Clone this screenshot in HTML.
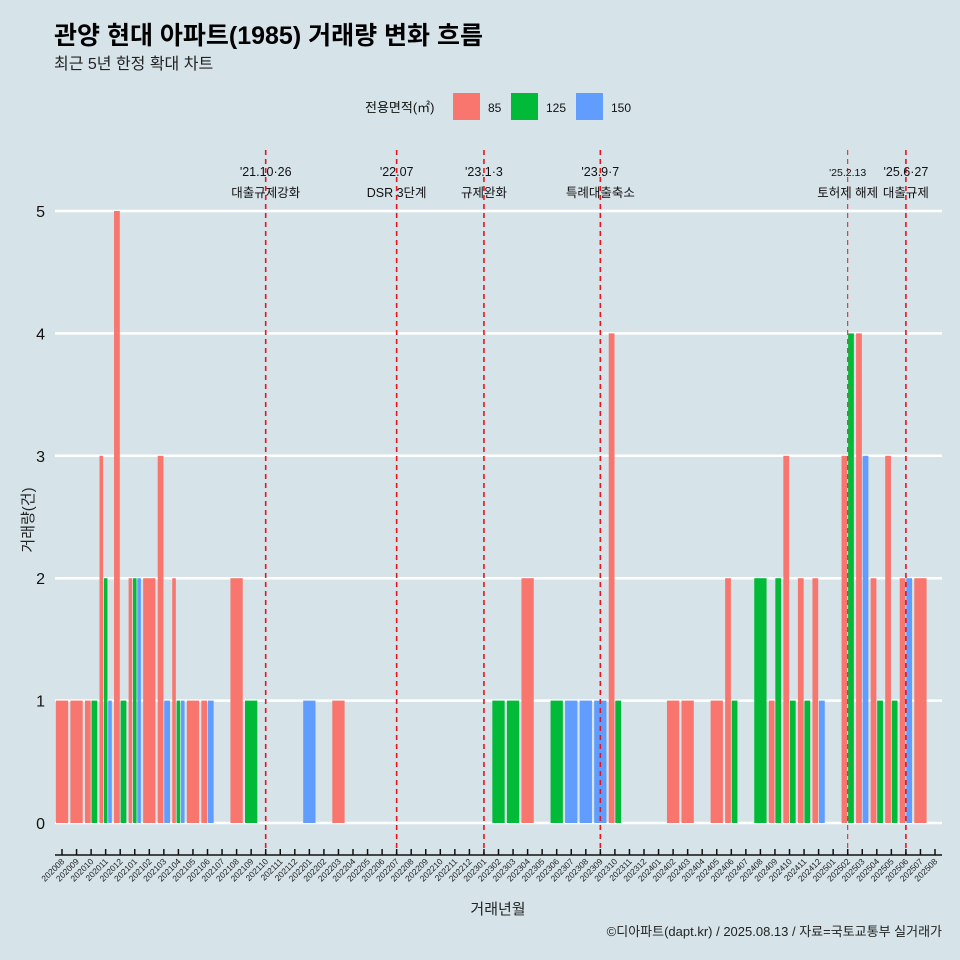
<!DOCTYPE html>
<html><head><meta charset="utf-8"><style>
body{margin:0;background:#d6e4ea;}
svg{display:block;font-family:"Liberation Sans","Noto Sans CJK KR",sans-serif;}
</style></head><body>
<svg id="c" width="960" height="960">
<rect width="960" height="960" fill="#d6e4ea"/>
<text x="54" y="44" font-size="25" font-weight="bold" fill="#000">관양 현대 아파트(1985) 거래량 변화 흐름</text>
<text x="54" y="69" font-size="16" fill="#222">최근 5년 한정 확대 차트</text>
<g>
<text x="365" y="112" font-size="13" fill="#111">전용면적(㎡)</text>
<rect x="453" y="93" width="27" height="27" fill="#f8766d"/>
<text x="488" y="112" font-size="12" fill="#111">85</text>
<rect x="511" y="93" width="27" height="27" fill="#00ba38"/>
<text x="546" y="112" font-size="12" fill="#111">125</text>
<rect x="576" y="93" width="27" height="27" fill="#619cff"/>
<text x="611" y="112" font-size="12" fill="#111">150</text>
</g>
<g id="grid"></g><g id="bars"></g><g id="events"></g><g id="axes"></g>
<text transform="translate(33,520) rotate(-90)" text-anchor="middle" font-size="15" fill="#222">거래량(건)</text>
<text x="498" y="914" text-anchor="middle" font-size="15" fill="#222">거래년월</text>
<text x="942" y="936" text-anchor="end" font-size="13" fill="#222">©디아파트(dapt.kr) / 2025.08.13 / 자료=국토교통부 실거래가</text>
</svg>
<script>
const months=[];for(let y=2020;y<=2025;y++)for(let m=1;m<=12;m++){const k=y*100+m;if(k>=202008&&k<=202508)months.push(String(k));}
const areas=["85","125","150"];
const colors={"85":"#f8766d","125":"#00ba38","150":"#619cff"};
const records=[
["202008","85",1],["202009","85",1],["202010","85",1],["202010","125",1],
["202011","85",3],["202011","125",2],["202011","150",1],["202012","85",5],["202012","125",1],
["202101","85",2],["202101","125",2],["202101","150",2],["202102","85",2],
["202103","85",3],["202103","150",1],["202104","85",2],["202104","125",1],["202104","150",1],
["202105","85",1],["202106","85",1],["202106","150",1],["202108","85",2],["202109","125",1],
["202201","150",1],["202203","85",1],
["202302","125",1],["202303","125",1],["202304","85",2],["202306","125",1],["202307","150",1],
["202308","150",1],["202309","150",1],["202310","85",4],["202310","125",1],
["202402","85",1],["202403","85",1],["202405","85",1],["202406","85",2],["202406","125",1],
["202408","125",2],["202409","85",1],["202409","125",2],["202410","85",3],["202410","125",1],
["202411","85",2],["202411","125",1],["202412","85",2],["202412","150",1],
["202502","85",3],["202502","125",4],["202503","85",4],["202503","150",3],
["202504","85",2],["202504","125",1],["202505","85",3],["202505","125",1],
["202506","85",2],["202506","150",2],["202507","85",2]];
const yTicks=[0,1,2,3,4,5];
const events=[["202110","'21.10·26","대출규제강화",2],["202207","'22.07","DSR 3단계",2],["202301","'23.1·3","규제완화",2],["202309","'23.9·7","특례대출축소",2],["202502","'25.2.13","토허제 해제",1],["202506","'25.6·27","대출규제",2]];
const NS="http://www.w3.org/2000/svg";
function mk(p,t,a){const e=document.createElementNS(NS,t);for(const k in a)e.setAttribute(k,a[k]);document.getElementById(p).appendChild(e);return e;}
const x0=62,step=14.55,bw=13.1;
const X=m=>x0+months.indexOf(m)*step;
const Y=v=>823-v*122.4;
for(const t of yTicks){
 const g=mk("grid","line",{x1:55,x2:942,y1:Y(t),y2:Y(t),stroke:"#fff","stroke-width":2.5});
 
 
 const l=mk("axes","text",{x:45,y:Y(t)+6,"text-anchor":"end","font-size":16,fill:"#111"});l.textContent=t;
 
 
}
for(const m of months){
 const grp=records.filter(r=>r[0]===m).sort((a,b)=>areas.indexOf(a[1])-areas.indexOf(b[1]));
 const n=grp.length,w=bw/n;
 grp.forEach((r,i)=>{
  const bx=X(m)-bw/2+i*w;
  const b=mk("bars","rect",{x:bx+0.4,y:Y(r[2]),width:Math.max(w-0.8,0.5),height:Y(0)-Y(r[2]),fill:colors[r[1]]});
  
  
 });
}
const ax=mk("axes","line",{x1:55,x2:942,y1:855,y2:855,stroke:"#111","stroke-width":1.5});


for(const m of months){
 const x=X(m);
 const tk=mk("axes","line",{x1:x,x2:x,y1:849,y2:855,stroke:"#111","stroke-width":1.5});
 
 
 const t=mk("axes","text",{transform:`translate(${x+3},862) rotate(-45)`,"text-anchor":"end","font-size":8.5,fill:"#222"});t.textContent=m;
 
 
}
for(const e of events){
 const x=X(e[0]);
 const l=mk("events","line",{x1:x,x2:x,y1:150,y2:855,stroke:"#e8141c","stroke-width":e[3]===2?1.6:1,"stroke-dasharray":"5,4"});
 
 
 const t1=mk("events","text",{x:x,y:176,"text-anchor":"middle","font-size":e[3]===2?12.5:10.5,fill:"#111"});t1.textContent=e[1];
 
 
 const t2=mk("events","text",{x:x,y:197,"text-anchor":"middle","font-size":12.5,fill:"#111"});t2.textContent=e[2];
 
 
}
</script>
</body></html>
